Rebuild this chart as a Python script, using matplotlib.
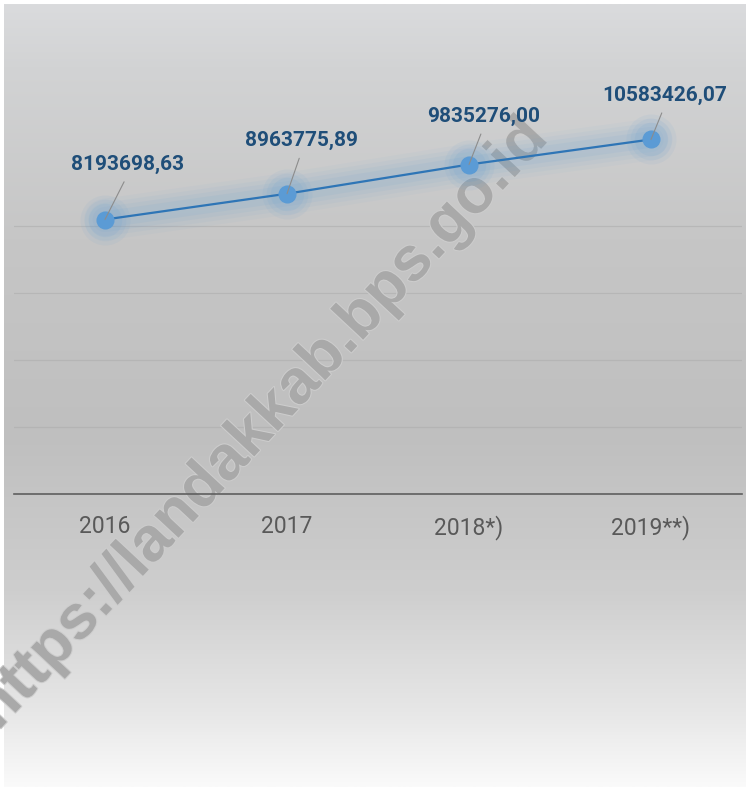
import numpy as np
import matplotlib
matplotlib.use("Agg")
import matplotlib.pyplot as plt
from matplotlib.colors import to_rgb
import matplotlib.patheffects as pe

# data
years = ["2016", "2017", "2018*)", "2019**)"]
values = [8193698.63, 8963775.89, 9835276.00, 10583426.07]
value_labels = ["8193698,63", "8963775,89", "9835276,00", "10583426,07"]
watermark = "https://landakkab.bps.go.id"

# label offsets in pixels (text centre relative to point)
label_offsets = [(23, 55), (15, 53), (15, 48), (14, 44)]

W, H = 746, 790
FONT = ["Roboto", "DejaVu Sans"]


def fx(px):
    return px / W


def fy(py):
    return 1 - py / H


fig = plt.figure(figsize=(W / 100, H / 100), dpi=100)
fig.patch.set_facecolor("white")

# gradient panel
bg = fig.add_axes([fx(4), fy(787), fx(742), 783 / H])
stops = [0.0, 0.08, 0.3, 0.55, 0.75, 0.9, 1.0]
cols = ["#dadbdd", "#d2d3d4", "#c6c6c6", "#bfbfbf", "#cecece", "#e6e6e6", "#fafafa"]
t = np.linspace(0, 1, 400)
rgb = np.array([to_rgb(c) for c in cols])
grad = np.stack([np.interp(t, stops, rgb[:, k]) for k in range(3)], axis=-1)[:, None, :]
bg.imshow(grad, aspect="auto", extent=[0, 1, 1, 0])
bg.set_xlim(0, 1)
bg.set_ylim(1, 0)
bg.axis("off")

ax = fig.add_axes([fx(14), fy(494), fx(728), 469 / H])
ax.set_facecolor("none")
x = np.arange(len(years))

# glow around line and markers
for lw, a in [(30, 0.04), (24, 0.05), (18, 0.065), (12, 0.08)]:
    ax.plot(x, values, color="#5b9bd5", lw=lw, alpha=a,
            solid_capstyle="round", zorder=2)
for ms, a in [(36, 0.07), (30, 0.08), (24, 0.1)]:
    ax.plot(x, values, "o", ms=ms, color="#5b9bd5", mew=0, alpha=a, zorder=2)
ax.plot(x, values, color="#2e75b6", lw=1.6, zorder=3)
ax.plot(x, values, "o", ms=12, color="#5b9bd5", mec="#5b9bd5", zorder=4)

for i, (lab, (dx, dy)) in enumerate(zip(value_labels, label_offsets)):
    ax.annotate(lab, xy=(x[i], values[i]), xytext=(dx, dy),
                textcoords="offset pixels", ha="center", va="center",
                fontsize=15, fontweight="bold", color="#1f4e79", family=FONT,
                arrowprops=dict(arrowstyle="-", color="#8c8c8c", lw=0.8,
                                relpos=(0.5, 0), shrinkA=4, shrinkB=0),
                zorder=5)

ax.set_xlim(-0.5, len(years) - 0.5)
ax.set_ylim(0, 14e6)
ax.set_yticks(np.arange(0, 10e6, 2e6))
ax.yaxis.grid(True, color="#adadad", lw=0.9, alpha=0.6, zorder=0)
ax.set_axisbelow(True)
ax.tick_params(axis="y", left=False, labelleft=False)
ax.set_xticks(x)
ax.set_xticklabels(years, fontsize=16.5, color="#595959", family=FONT)
ax.tick_params(axis="x", length=0, pad=15)
for s in ["top", "left", "right"]:
    ax.spines[s].set_visible(False)
ax.spines["bottom"].set_color("#5f5f5f")
ax.spines["bottom"].set_linewidth(1.2)

# watermark (sits under the line and labels)
ax.text(fx(262), fy(424), watermark, rotation=47, ha="center", va="center",
        fontsize=45, fontweight="bold", color="#a9a9a9", family="Liberation Sans",
        transform=fig.transFigure, clip_on=False, zorder=1.5,
        path_effects=[pe.withStroke(linewidth=1.5, foreground="#cdcdcd")])

fig.savefig("out.png", dpi=100)
